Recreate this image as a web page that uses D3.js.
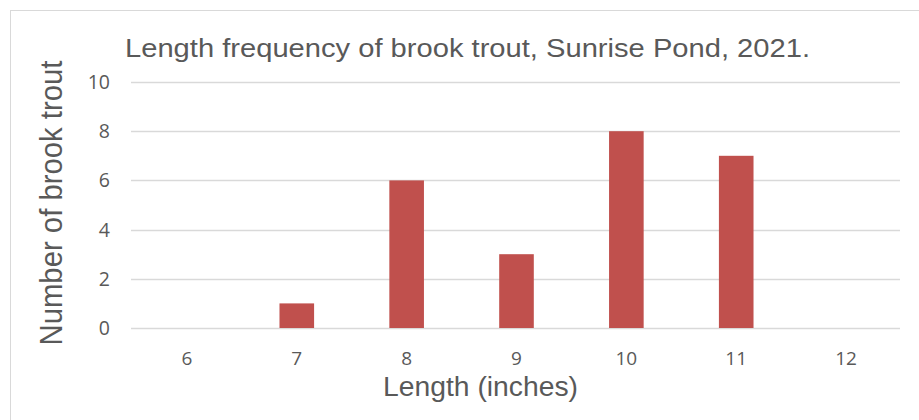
<!DOCTYPE html>
<html>
<head>
<meta charset="utf-8">
<script src="https://cdn.jsdelivr.net/npm/d3@7"></script>
<style>
  body { margin: 0; background: #fff; }
  svg { display: block; }
</style>
</head>
<body>
<div id="chart"></div>
<script>
const lengths = ['6', '7', '8', '9', '10', '11', '12']
const counts = [0, 1, 6, 3, 8, 7, 0]
const yTicks = [0, 2, 4, 6, 8, 10]

const width = 919
const height = 420
const margin = { top: 82, right: 19, bottom: 92, left: 131 }

const svg = d3.select('#chart').append('svg')
  .attr('width', width)
  .attr('height', height)

// chart border
svg.append('rect')
  .attr('x', 10.5).attr('y', 10.5)
  .attr('width', width).attr('height', height)
  .attr('fill', 'none')
  .attr('stroke', '#d9d9d9')

const x = d3.scaleBand()
  .domain(lengths)
  .range([margin.left, width - margin.right])
  .paddingInner(0.685)
  .paddingOuter(0.3425)

const y = d3.scaleLinear()
  .domain([0, 10])
  .range([height - margin.bottom, margin.top])

// gridlines
svg.append('g')
  .selectAll('line')
  .data(yTicks)
  .join('line')
  .attr('x1', margin.left)
  .attr('x2', width - margin.right)
  .attr('y1', d => Math.round(y(d)) + 0.5)
  .attr('y2', d => Math.round(y(d)) + 0.5)
  .attr('stroke', '#d9d9d9')
  .attr('stroke-width', 1.6)

// bars
svg.append('g')
  .selectAll('rect')
  .data(counts)
  .join('rect')
  .attr('x', (d, i) => x(lengths[i]) + 1)
  .attr('width', x.bandwidth())
  .attr('y', d => y(d))
  .attr('height', d => y(0) - y(d))
  .attr('fill', '#c0504d')

const tickFont = '"Open Sans", "Noto Sans", sans-serif'
const labelFont = '"Liberation Sans", Arial, sans-serif'

// y tick labels
svg.append('g')
  .selectAll('text')
  .data(yTicks)
  .join('text')
  .attr('x', 110)
  .attr('y', d => y(d))
  .attr('dy', '0.36em')
  .attr('text-anchor', 'end')
  .attr('font-family', tickFont)
  .attr('font-size', 19.5)
  .attr('fill', '#595959')
  .text(d => d)

// x tick labels
svg.append('g')
  .selectAll('text')
  .data(lengths)
  .join('text')
  .attr('x', d => x(d) + x.bandwidth() / 2 + 1)
  .attr('y', 365)
  .attr('text-anchor', 'middle')
  .attr('font-family', tickFont)
  .attr('font-size', 19)
  .attr('fill', '#595959')
  .text(d => d)

// title
svg.append('text')
  .attr('x', 125)
  .attr('y', 57)
  .attr('font-family', labelFont)
  .attr('font-size', 25)
  .attr('textLength', 685)
  .attr('lengthAdjust', 'spacingAndGlyphs')
  .attr('fill', '#595959')
  .text('Length frequency of brook trout, Sunrise Pond, 2021.')

// axis titles
svg.append('text')
  .attr('x', 480.5)
  .attr('y', 396)
  .attr('text-anchor', 'middle')
  .attr('font-family', labelFont)
  .attr('font-size', 27)
  .attr('textLength', 195)
  .attr('lengthAdjust', 'spacingAndGlyphs')
  .attr('fill', '#595959')
  .text('Length (inches)')

svg.append('text')
  .attr('transform', 'translate(62,203) rotate(-90)')
  .attr('text-anchor', 'middle')
  .attr('font-family', labelFont)
  .attr('font-size', 31)
  .attr('textLength', 285)
  .attr('lengthAdjust', 'spacingAndGlyphs')
  .attr('fill', '#595959')
  .text('Number of brook trout')
</script>
</body>
</html>
